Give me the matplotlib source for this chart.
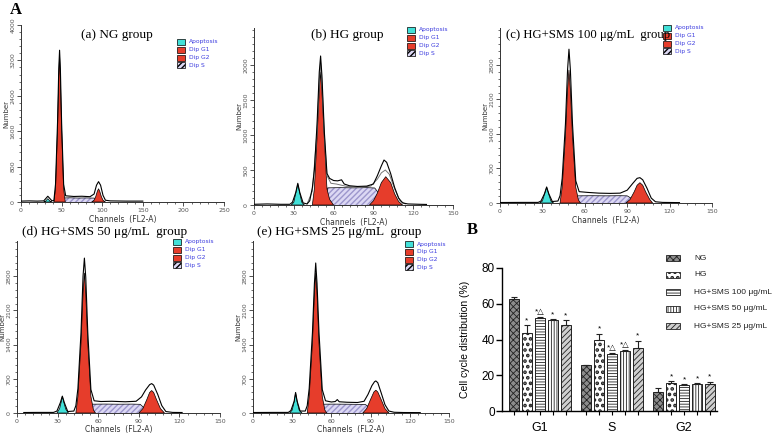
import numpy as np
import matplotlib
matplotlib.use('Agg')
import matplotlib.pyplot as plt
from matplotlib.patches import Rectangle
from matplotlib.ticker import MultipleLocator

W, H = 778, 433

# flow cytometry histograms, (channel, count) points
# (a) NG group
A_ENV = [(0, 20), (10, 25), (20, 20), (28, 25), (33, 130), (38, 30), (40.5, 30), (42.5, 400), (45, 1800),
         (46.5, 3000), (47.5, 3430), (48.5, 3000), (50, 1800), (52.5, 400), (55, 140), (65, 125), (75, 130),
         (85, 120), (90, 180), (93, 380), (95.5, 460), (98, 380), (101, 150), (104, 40), (110, 25), (130, 20),
         (150, 20)]
A_APO = [(28, 0), (30, 15), (32, 55), (33, 75), (34, 55), (36, 15), (38, 0)]
A_G1 = [(40.5, 0), (42.5, 300), (45, 1660), (46.5, 2820), (47.5, 3320), (48.5, 2820), (50, 1660),
        (52.5, 300), (54.5, 0)]
A_G2 = [(87, 0), (90, 40), (92, 120), (94, 240), (95.5, 300), (97, 240), (99, 120), (101, 40), (104, 0)]
A_S = [(50, 0), (52, 90), (60, 95), (70, 90), (80, 92), (90, 88), (94, 60), (98, 0)]

# (b) HG group
B_ENV = [(0, 10), (10, 15), (20, 10), (27, 10), (29, 40), (31.5, 180), (33, 310), (34.5, 180), (37, 30),
         (40, 15), (42, 60), (44, 250), (45.5, 500), (47.5, 1150), (49.2, 1900), (50.2, 2130), (51.2, 1850),
         (53, 1050), (55, 450), (57, 380), (60, 350), (63, 345), (66, 360), (68, 300), (72, 275), (78, 265),
         (85, 270), (90, 300), (93, 420), (96, 560), (98, 643), (100, 610), (103, 450), (106, 250),
         (109, 100), (112, 30), (116, 15), (125, 10), (130, 8)]
B_FIT = [(40, 15), (44, 200), (47.5, 1050), (49.2, 1780), (50.2, 2030), (51.2, 1750), (53, 1000), (55, 420),
         (58, 310), (62, 300), (70, 265), (80, 255), (88, 270), (93, 370), (96, 460), (99, 500), (102, 440),
         (106, 230), (110, 60), (114, 15)]
B_APO = [(28, 0), (30, 40), (31.5, 170), (33, 300), (34.5, 170), (36, 40), (38, 0)]
B_G1 = [(44, 0), (45.5, 230), (47.5, 950), (49.2, 1620), (50.2, 1905), (51.2, 1620), (53, 950), (55, 230),
        (57, 80), (60, 0)]
B_G2 = [(87, 0), (90, 60), (93, 170), (96, 320), (99.3, 405), (103, 320), (106, 160), (109, 50), (112, 0)]
B_S = [(53, 0), (55.5, 245), (65, 248), (75, 245), (85, 248), (91, 243), (96, 120), (100, 0)]

# (c) HG+SMS 100
C_ENV = [(0, 10), (15, 12), (27, 12), (29, 40), (31.5, 190), (33, 325), (34.5, 190), (37, 30), (41, 40),
         (42.5, 150), (44, 500), (46.3, 1600), (47.8, 2700), (48.8, 3120), (49.8, 2700), (51.3, 1600),
         (53.6, 450), (56, 230), (62, 215), (70, 200), (78, 195), (85, 200), (90, 260), (94, 400), (97, 500),
         (99, 514), (101, 470), (104, 300), (107, 100), (110, 25), (115, 12), (127, 8)]
C_APO = [(28, 0), (30, 40), (31.5, 180), (33, 318), (34.5, 180), (36, 40), (38, 0)]
C_G1 = [(42.5, 0), (44, 320), (46.3, 1350), (47.8, 2300), (48.8, 2700), (49.8, 2300), (51.3, 1350),
        (53.6, 320), (55.5, 60), (57, 0)]
C_G2 = [(89, 0), (92, 70), (95, 230), (97, 360), (99, 412), (101, 360), (103, 230), (106, 70), (108, 0)]
C_S = [(52, 0), (55, 145), (65, 148), (75, 145), (85, 148), (90, 145), (95, 60), (98, 0)]

# (d) HG+SMS 50
D_ENV = [(5, 10), (15, 12), (27, 12), (29.5, 40), (32, 210), (33.5, 345), (35, 210), (37.5, 30), (42, 40),
         (43.5, 150), (45, 500), (47.3, 1650), (48.8, 2800), (49.8, 3170), (50.8, 2780), (52.3, 1650),
         (54.6, 480), (57, 250), (62, 235), (70, 240), (80, 230), (88, 240), (92, 330), (95, 470), (98, 580),
         (99.5, 602), (101, 570), (104, 380), (107, 150), (110, 30), (115, 12), (122, 10)]
D_APO = [(29.5, 0), (31.5, 90), (32.7, 230), (33.5, 340), (34.5, 230), (36, 80), (38, 0)]
D_G1 = [(43.5, 0), (45, 340), (47.3, 1430), (48.8, 2440), (49.8, 2867), (50.8, 2440), (52.3, 1430),
        (54.6, 340), (56.5, 60), (58, 0)]
D_G2 = [(90, 0), (93, 90), (96, 280), (98, 420), (99.5, 460), (101, 420), (103, 280), (106, 90), (109, 0)]
D_S = [(53, 0), (55, 180), (65, 183), (75, 180), (85, 182), (91, 178), (95, 80), (99, 0)]

# (e) HG+SMS 25
E_ENV = [(0, 10), (15, 12), (27, 12), (29, 50), (31.5, 240), (32.6, 420), (33.8, 240), (36, 40), (40, 40),
         (41.5, 150), (43, 500), (45.5, 1650), (47, 2650), (48, 3070), (49, 2650), (50.5, 1650), (53, 480),
         (55.5, 250), (60, 225), (63, 235), (64.5, 275), (66, 230), (72, 220), (80, 215), (85, 240), (88, 380),
         (91, 560), (93, 640), (94, 656), (95.5, 620), (98, 420), (101, 170), (104, 40), (108, 15),
         (115, 10), (128, 8)]
E_APO = [(28, 0), (30, 60), (31.5, 230), (32.6, 412), (33.8, 230), (35.3, 60), (37.5, 0)]
E_G1 = [(41.5, 0), (43, 340), (45.5, 1430), (47, 2440), (48, 2867), (49, 2440), (50.5, 1430), (53, 340),
        (55, 60), (56.5, 0)]
E_G2 = [(84, 0), (87, 90), (90, 280), (92.5, 430), (94, 467), (95.5, 430), (98, 280), (101, 90), (104, 0)]
E_S = [(51, 0), (53, 180), (62, 182), (72, 180), (80, 178), (86, 174), (91, 80), (95, 0)]

# cell cycle distribution (%) for G1, S, G2
PHASES = ['G1', 'S', 'G2']
GROUPS = ['NG', 'HG', 'HG+SMS 100 μg/mL', 'HG+SMS 50 μg/mL', 'HG+SMS 25 μg/mL']
NG_PCT = [62.5, 25.6, 10.8]
HG_PCT = [43.6, 39.8, 15.9]
SMS100_PCT = [52.0, 32.1, 14.6]
SMS50_PCT = [50.7, 33.3, 15.1]
SMS25_PCT = [48.2, 35.5, 15.3]
NG_ERR = [1.1, 0.4, 1.9]
HG_ERR = [4.6, 3.4, 0.9]
SMS100_ERR = [0.5, 0.6, 0.5]
SMS50_ERR = [0.7, 0.7, 0.4]
SMS25_ERR = [2.8, 3.8, 1.1]
NG_MARK = ['', '', '']
HG_MARK = ['*', '*', '*']
SMS100_MARK = ['*△', '*△', '*']
SMS50_MARK = ['*', '*△', '*']
SMS25_MARK = ['*', '*', '*']

RED = '#e63d2b'
CYAN = '#42e0d8'
LAV = '#dcd8f4'
LEG_BLUE = '#3b3bdf'

fig = plt.figure(figsize=(W / 100, H / 100), dpi=100)


def px_axes(left, top, right, bottom):
    return fig.add_axes([left / W, 1 - bottom / H, (right - left) / W, (bottom - top) / H])


def fig_text(x, y, s, **kw):
    fig.text(x / W, 1 - y / H, s, **kw)


def draw_flow(ax, env, apo, g1, g2, s, fit=None):
    xs, ys = zip(*s)
    ax.fill(xs, ys, facecolor=LAV, edgecolor='#9c96cc', hatch='//////', lw=0, zorder=2)
    ax.plot(xs, ys, color='black', lw=0.5, zorder=2.5)
    for pts in (g1, g2):
        xs, ys = zip(*pts)
        ax.fill(xs, ys, facecolor=RED, edgecolor='black', lw=0.5, zorder=3)
    xs, ys = zip(*apo)
    ax.fill(xs, ys, facecolor=CYAN, edgecolor='black', lw=0.5, zorder=3)
    if fit:
        xs, ys = zip(*fit)
        ax.plot(xs, ys, color='#777777', lw=0.7, zorder=3.5)
    xs, ys = zip(*env)
    ax.plot(xs, ys, color='black', lw=0.8, zorder=4)


def style_flow(ax, xmax, xmaj, ymax, ymaj, ytop):
    ax.set_xlim(0, xmax)
    ax.set_ylim(0, ymax)
    for side in ('top', 'right'):
        ax.spines[side].set_visible(False)
    for side in ('left', 'bottom'):
        ax.spines[side].set_linewidth(0.7)
        ax.spines[side].set_color('#333333')
    ax.set_xticks(np.arange(0, xmax + 1, xmaj))
    ax.xaxis.set_minor_locator(MultipleLocator(xmaj / 5))
    ax.set_yticks(np.arange(0, ytop + 1, ymaj))
    ax.yaxis.set_minor_locator(MultipleLocator(ymaj / 5))
    ax.tick_params(which='major', length=3, width=0.6, labelsize=4.5, labelcolor='#555555', pad=1,
                   color='#333333')
    ax.tick_params(which='minor', length=1.5, width=0.5, color='#333333')
    plt.setp(ax.get_yticklabels(), rotation=90, va='center')
    ax.set_ylabel('Number', fontsize=5, labelpad=1, color='#333333')
    ax.set_xlabel('Channels  (FL2-A)', fontsize=5.5, color='#333333')
    ax.xaxis.set_label_coords(0.5, -0.072)
    ax.patch.set_alpha(0)


def flow_legend(x, y, step=7.8):
    entries = [('Apoptosis', CYAN, None), ('Dip G1', RED, None), ('Dip G2', RED, None), ('Dip S', LAV, '//////')]
    for k, (lab, fc, hatch) in enumerate(entries):
        yy = y + k * step
        fig.add_artist(Rectangle((x / W, 1 - (yy + 3) / H), 8 / W, 6 / H, transform=fig.transFigure,
                                 facecolor=fc, edgecolor='black', lw=0.5, hatch=hatch))
        fig_text(x + 12, yy, lab, fontsize=4.3, color=LEG_BLUE, va='center')


panels = [
    ((21, 25, 224, 202), (250, 50, 4000, 800, 4000), (A_ENV, A_APO, A_G1, A_G2, A_S), None,
     (117, 35, '(a) NG group', 'center', 9.5), (177, 42)),
    ((254, 28, 453, 205), (150, 30, 2530, 500, 2000), (B_ENV, B_APO, B_G1, B_G2, B_S), B_FIT,
     (347, 35, '(b) HG group', 'center', 9.5), (407, 30)),
    ((500, 28, 712, 203), (150, 30, 3550, 700, 2800), (C_ENV, C_APO, C_G1, C_G2, C_S), None,
     (506, 35, '(c) HG+SMS 100 μg/mL  group', 'left', 9.2), (663, 28)),
    ((17, 241, 220, 413), (150, 30, 3520, 700, 2800), (D_ENV, D_APO, D_G1, D_G2, D_S), None,
     (22, 232, '(d) HG+SMS 50 μg/mL  group', 'left', 9.5), (173, 242)),
    ((253, 241, 449, 413), (150, 30, 3520, 700, 2800), (E_ENV, E_APO, E_G1, E_G2, E_S), None,
     (257, 232, '(e) HG+SMS 25 μg/mL  group', 'left', 9.5), (405, 244)),
]

for box, lim, curves, fit, title, leg in panels:
    ax = px_axes(*box)
    draw_flow(ax, *curves, fit=fit)
    style_flow(ax, *lim)
    fig_text(title[0], title[1], title[2], fontsize=title[4], family='Liberation Serif', ha=title[3],
             va='center')
    flow_legend(*leg)

fig_text(10, 10, 'A', fontsize=12, family='Liberation Serif', weight='bold', va='center')
fig_text(467, 230, 'B', fontsize=12, family='Liberation Serif', weight='bold', va='center')

# bar chart B
axb = px_axes(502, 268, 717, 411)
series = [
    (NG_PCT, NG_ERR, NG_MARK, '#8c8c8c', 'xxxxx', 0.6),
    (HG_PCT, HG_ERR, HG_MARK, 'white', '...', 1.8),
    (SMS100_PCT, SMS100_ERR, SMS100_MARK, 'white', '------', 0.6),
    (SMS50_PCT, SMS50_ERR, SMS50_MARK, 'white', '||||||', 0.6),
    (SMS25_PCT, SMS25_ERR, SMS25_MARK, '#cfcfcf', '//////', 0.6),
]
gap = 5.6
for i, (vals, errs, marks, fc, hatch, hlw) in enumerate(series):
    xs = [g * gap + i for g in range(len(PHASES))]
    with plt.rc_context({'hatch.linewidth': hlw}):
        axb.bar(xs, vals, width=0.78, color=fc, edgecolor='#222222', hatch=hatch, lw=0.7, zorder=2)
    axb.errorbar(xs, vals, yerr=[[0] * len(vals), errs], fmt='none', ecolor='#222222', elinewidth=0.8,
                 capsize=2, capthick=0.8, zorder=3)
    for x, v, e, m in zip(xs, vals, errs, marks):
        if m:
            axb.text(x, v + e + 0.5, m, ha='center', va='bottom', fontsize=6,
                     family=['Liberation Sans', 'DejaVu Sans'])
    # legend entry
    yy = 258 + i * 17
    with plt.rc_context({'hatch.linewidth': hlw}):
        fig.add_artist(Rectangle((666 / W, 1 - (yy + 3) / H), 14 / W, 6 / H, transform=fig.transFigure,
                                 facecolor=fc, edgecolor='#222222', lw=0.6, hatch=hatch))
    fig_text(694, yy, GROUPS[i], fontsize=6, family='Liberation Sans', va='center', color='#222222')

axb.set_xlim(-0.94, 2 * gap + 4 + 0.55)
axb.set_ylim(0, 80)
for side in ('top', 'right'):
    axb.spines[side].set_visible(False)
for side in ('left', 'bottom'):
    axb.spines[side].set_linewidth(1.0)
axb.set_yticks([0, 20, 40, 60, 80])
axb.set_xticks([g * gap + i for g in range(3) for i in range(5)])
axb.set_xticklabels([])
axb.tick_params(axis='y', length=4, width=1, labelsize=8.5, pad=1)
axb.tick_params(axis='x', length=3, width=0.8)
for lab in axb.get_yticklabels():
    lab.set_family('Liberation Sans')
for g, ph in enumerate(PHASES):
    axb.text(g * gap + 2, -9.5, ph, ha='center', va='center', fontsize=9, family='Liberation Sans')
axb.set_ylabel('Cell cycle distribution (%)', fontsize=7.5, family='Liberation Sans')
axb.yaxis.set_label_coords(-0.15, 0.5)
axb.patch.set_alpha(0)

fig.savefig('out.png', dpi=100)
